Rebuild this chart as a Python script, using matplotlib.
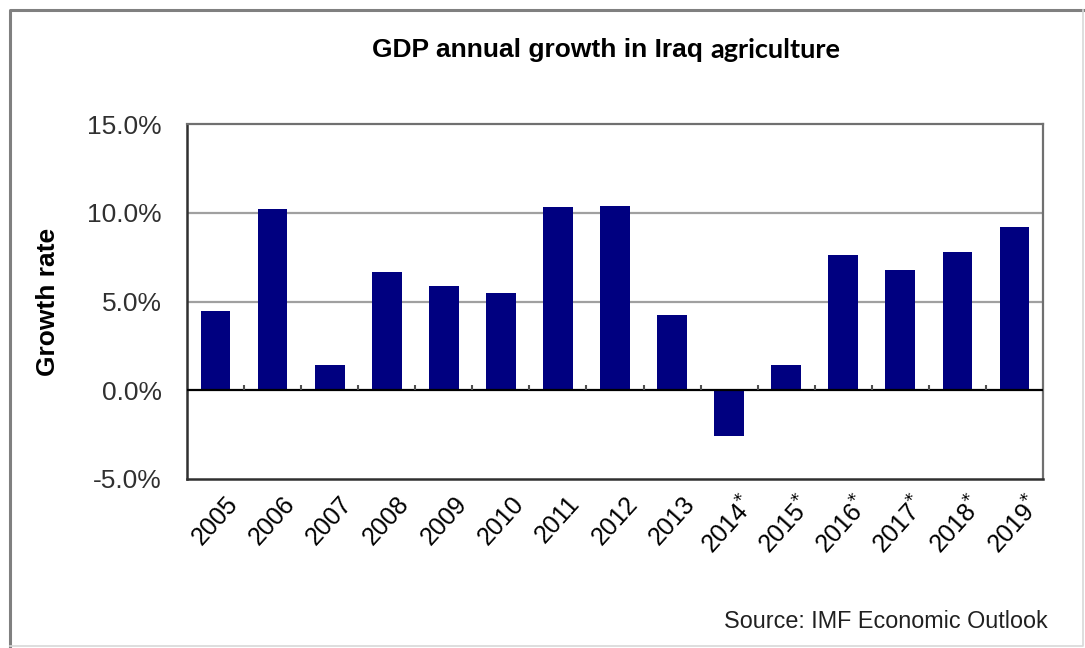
import numpy as np
import matplotlib
matplotlib.use('Agg')
import matplotlib.pyplot as plt
from matplotlib.lines import Line2D

# GDP growth of the agricultural sector, starred years are estimates
years = ['2005', '2006', '2007', '2008', '2009', '2010', '2011', '2012', '2013',
         '2014', '2015', '2016', '2017', '2018', '2019']
estimated = [False] * 9 + [True] * 6
growth = [4.45, 10.2, 1.45, 6.65, 5.9, 5.5, 10.3, 10.4, 4.25,
          -2.6, 1.45, 7.6, 6.8, 7.8, 9.2]

font = {'family': 'Liberation Sans', 'size': 19}
matplotlib.rc('font', **font)

W, H = 1085, 648
fig = plt.figure(figsize=(W / 100, H / 100), dpi=100)
ax = fig.add_axes([187 / W, 1 - 479 / H, (1043 - 187) / W, (479 - 124) / H])

x = np.arange(len(years))
ax.bar(x, growth, width=0.52, color='#000080', zorder=3)

ax.set_ylim(-5, 15)
ax.set_xlim(-0.5, len(years) - 0.5)
ax.set_yticks([-5, 0, 5, 10, 15])
ax.set_yticklabels(['{:.1f}%'.format(v) for v in [-5, 0, 5, 10, 15]])
for v in [5, 10]:
    ax.axhline(v, color='#a0a0a0', lw=1.6, zorder=1)

# zero line with small category separators
ax.axhline(0, color='black', lw=1.6, zorder=4)
ax.vlines(x[:-1] + 0.5, 0, 0.3, color='#505050', lw=1.5, zorder=4)

labels = [y + ('$^{*}$' if e else '') for y, e in zip(years, estimated)]
ax.set_xticks(x)
ax.set_xticklabels(labels, rotation=48, ha='center', va='top', fontsize=18)
ax.tick_params(axis='x', length=0, pad=9)
ax.tick_params(axis='y', length=0, pad=18, labelcolor='#303030')

for side in ['left', 'bottom']:
    ax.spines[side].set_color('#303030')
    ax.spines[side].set_linewidth(1.8)
for side in ['top', 'right']:
    ax.spines[side].set_color('#707070')
    ax.spines[side].set_linewidth(1.6)

ax.set_ylabel('Growth rate', fontsize=19, fontweight='bold', labelpad=20)

# title in two fonts
t1 = fig.text(0.5, 1 - 50 / H, 'GDP annual growth in Iraq ', ha='left', va='center',
              fontsize=19, fontweight='bold', family='Liberation Sans')
fig.canvas.draw()
bb = t1.get_window_extent()
t1.set_x(0.5 + (372 - bb.x0) / W)
bb = t1.get_window_extent()
fig.text(bb.x1 / W, 1 - 50 / H, 'agriculture', ha='left', va='center',
         fontsize=19.5, fontweight='bold', family='Lato')

fig.text(1048 / W, 1 - 621 / H, 'Source: IMF Economic Outlook', ha='right',
         va='center', fontsize=16.8, color='#202020')

# outer frame: darker left/top, faint right/bottom
l, r, t, b = 10 / W, 1083 / W, 1 - 10 / H, 1 - 646 / H
fig.add_artist(Line2D([l, l, r], [b, t, t], transform=fig.transFigure,
                      color='#808080', lw=2.2))
fig.add_artist(Line2D([r, r, l], [t, b, b], transform=fig.transFigure,
                      color='#d8d8d8', lw=1.2))

fig.savefig('out.png', dpi=100)
